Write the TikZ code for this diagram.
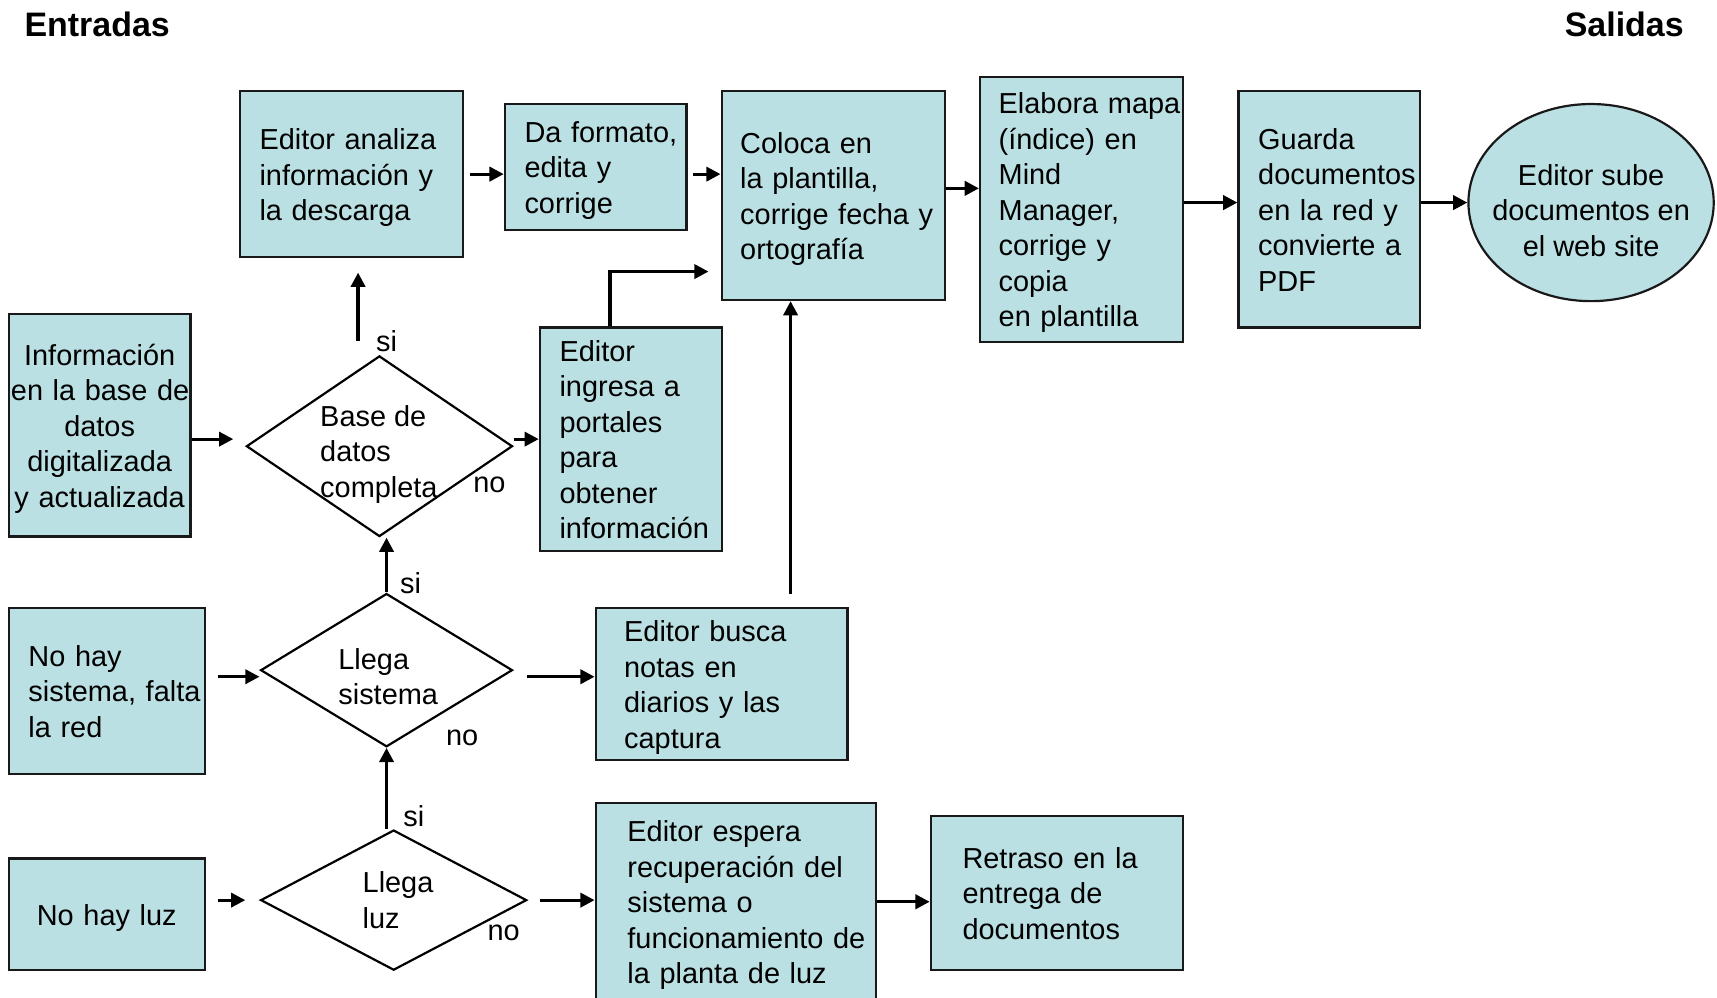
\documentclass[tikz,border=0pt]{standalone}
\usepackage{fontspec}
\setmainfont{Liberation Sans}
\usetikzlibrary{shapes.geometric,arrows.meta,calc}
\definecolor{boxfill}{RGB}{187,224,227}
\begin{document}
\begin{tikzpicture}[x=0.5pt,y=-0.5pt,
  every node/.style={font=\fontsize{13.2}{16.2}\selectfont, text=black},
  box/.style={draw=black!90, line width=1pt, fill=boxfill, align=left, inner ysep=0pt,
    execute at begin node={\rule{0pt}{13pt}},
    execute at end node={\rule[-3pt]{0pt}{0pt}}},
  cbox/.style={box, align=center},
  dec/.style={diamond, draw=black, line width=1pt, fill=white, inner sep=0pt},
  arr/.style={line width=1.45pt, -{Triangle[length=6.5pt,width=6.5pt]}},
  lbl/.style={inner sep=0pt},
  title/.style={font=\bfseries\fontsize{15.5}{18}\selectfont, inner sep=0pt}]

\useasboundingbox (0,0) rectangle (1568,911);

% headings
\node[title, anchor=base west] (entradas) at (22,33) {Entradas};
\node[title, anchor=base east] (salidas) at (1538,33) {Salidas};

% main process chain
\node[box, minimum width=102pt, minimum height=76pt, text width=84pt, inner xsep=9pt] (ana) at (321,159)
  {\mbox{Editor analiza}\\\mbox{información y}\\la descarga};
\node[box, minimum width=83pt, minimum height=57.5pt, text width=65pt, inner xsep=9pt] (fmt) at (544,152.5)
  {\mbox{Da formato,}\\edita y\\corrige};
\node[box, minimum width=102pt, minimum height=95.5pt, text width=85pt, inner xsep=8.5pt] (col) at (761,178.5)
  {Coloca en\\\mbox{la plantilla,}\\\mbox{corrige fecha y}\\ortografía};
\node[box, minimum width=92.5pt, minimum height=121pt, text width=75.5pt, inner xsep=8.5pt] (ela) at (987.5,191)
  {\mbox{Elabora mapa}\\\mbox{(índice) en}\\Mind\\\mbox{Manager,}\\\mbox{corrige y}\\copia\\\mbox{en plantilla}};
\node[box, minimum width=83pt, minimum height=108pt, text width=65pt, inner xsep=9pt] (gua) at (1214,191)
  {Guarda\\\mbox{documentos}\\\mbox{en la red y}\\\mbox{convierte a}\\PDF};
\node[ellipse, draw=black!90, line width=1pt, fill=boxfill, minimum width=112pt, minimum height=90pt, inner sep=0pt] (web) at (1453,185) {};
\node[align=center, inner sep=0pt] (webtxt) at (1453,192) {Editor sube\\documentos en\\el web site};

% inputs
\node[cbox, minimum width=83pt, minimum height=101.5pt, text width=81pt, inner xsep=1pt] (inf) at (91,388.5)
  {Información\\\mbox{en la base de}\\datos\\digitalizada\\\mbox{y actualizada}};
\node[box, minimum width=89.5pt, minimum height=76pt, text width=71.5pt, inner xsep=9pt] (sis) at (97.5,631)
  {No hay\\\mbox{sistema, falta}\\la red};
\node[cbox, minimum width=89.5pt, minimum height=51pt, text width=85pt, inner xsep=2pt] (luz) at (97.5,835)
  {No hay luz};

% decisions
\node[dec, minimum width=121.5pt, minimum height=82.5pt] (d1) at (346.5,407.5) {};
\node[align=left, inner sep=0pt] (d1t) at (346,415) {Base de\\datos\\completa};
\node[dec, minimum width=115pt, minimum height=70pt] (d2) at (353,612) {};
\node[align=left, inner sep=0pt] (d2t) at (354.5,618) {Llega\\sistema};
\node[dec, minimum width=121.5pt, minimum height=64pt] (d3) at (359.5,822) {};
\node[align=left, inner sep=0pt] (d3t) at (363.5,822) {Llega\\luz};

% branch labels
\node[lbl] (si1) at (353,312) {si};
\node[lbl] (no1) at (447,443) {no};
\node[lbl] (si2) at (375,533) {si};
\node[lbl] (no2) at (422,674) {no};
\node[lbl] (si3) at (378,745) {si};
\node[lbl] (no3) at (460,852) {no};

% side activities
\node[box, minimum width=83pt, minimum height=102pt, text width=65pt, inner xsep=9pt] (ing) at (576,401)
  {Editor\\\mbox{ingresa a}\\portales\\para\\obtener\\\mbox{información}};
\node[box, minimum width=115pt, minimum height=69.5pt, text width=89pt, inner xsep=13pt] (bus) at (659,624.5)
  {Editor busca\\notas en\\\mbox{diarios y las}\\captura};
\node[box, minimum width=128pt, minimum height=90.5pt, text width=99pt, inner xsep=14.5pt] (esp) at (672,823.5)
  {Editor espera\\\mbox{recuperación del}\\sistema o\\\mbox{funcionamiento de}\\\mbox{la planta de luz}};
\node[box, minimum width=115pt, minimum height=70.5pt, text width=86pt, inner xsep=14.5pt] (ret) at (965,815.5)
  {\mbox{Retraso en la}\\entrega de\\documentos};

% connectors along the top chain
\draw[arr] ([xshift=2.5pt]ana.east) -- (ana.east -| fmt.west);
\draw[arr] ([xshift=2.5pt]ana.east -| fmt.east) -- (ana.east -| col.west);
\draw[arr] ([yshift=3.25pt]col.east) -- ([yshift=3.25pt]col.east -| ela.west);
\draw[arr] ([yshift=3pt]ela.east) -- ([yshift=3pt]ela.east -| gua.west);
\draw[arr] ([yshift=3pt]gua.east) -- (web.west);

% decision one
\draw[arr] ([yshift=-6.25pt]inf.east) -- ([xshift=-5.5pt,yshift=-6.25pt]inf.east -| d1.west);
\draw[arr] (ing.west -| d1.east) -- (ing.west);
\draw[arr] ([xshift=-9.75pt,yshift=6.5pt]d1.north) -- ([xshift=-9.75pt,yshift=-6.5pt]d1.north |- ana.south);
\draw[arr] ([xshift=-9.5pt]ing.north) |- ([xshift=-5.5pt,yshift=-34.75pt]col.west);

% decision two
\draw[arr] (d2.north) -- (d2.north |- d1.south);
\draw[arr] ([xshift=5.5pt,yshift=6.5pt]sis.east) -- ([yshift=6.5pt]sis.east -| d2.west);
\draw[arr] ([xshift=6pt,yshift=3.25pt]bus.west -| d2.east) -- ([yshift=3.25pt]bus.west);
\draw[arr] ([xshift=31.5pt,yshift=6pt]bus.north) -- ([xshift=31.5pt]bus.north |- col.south);

% decision three
\draw[arr] (d3.north -| d2.south) -- (d2.south);
\draw[arr] ([xshift=5.5pt,yshift=6.5pt]luz.east) -- ([xshift=-6.5pt]d3.west);
\draw[arr] ([xshift=5.5pt]d3.east) -- (d3.east -| esp.west);
\draw[arr] (esp.east) -- (esp.east -| ret.west);
\end{tikzpicture}
\end{document}
